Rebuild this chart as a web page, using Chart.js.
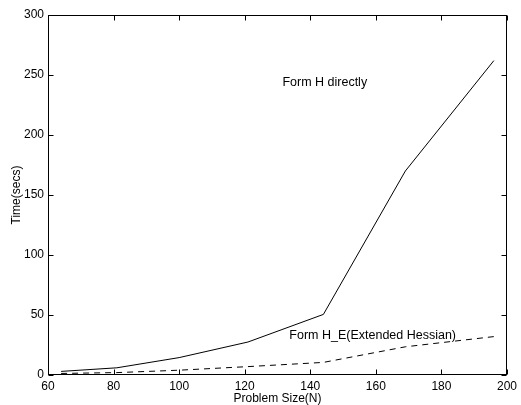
<!DOCTYPE html>
<html>
<head>
<meta charset="utf-8">
<script src="https://cdn.jsdelivr.net/npm/chart.js@4"></script>
<style>
  html, body { margin: 0; padding: 0; background: #fff; }
  #wrap { width: 521px; height: 405px; }
</style>
</head>
<body>
<div id="wrap"><canvas id="myChart" width="521" height="405"></canvas></div>
<script>
const sizes = [64, 81, 100, 121, 144, 169, 196];
const directTimes = [3, 6, 14.5, 27.5, 50.5, 170, 262];
const extendedTimes = [1.3, 2, 4, 7, 10.5, 23.5, 32];
const xTicks = [60, 80, 100, 120, 140, 160, 180, 200];
const yTicks = [0, 50, 100, 150, 200, 250, 300];
const notes = [
  { text: 'Form H directly', x: 131.5, y: 244 },
  { text: 'Form H_E(Extended Hessian)', x: 133.6, y: 32.5 },
];

const font = 'Liberation Sans, Arial, Helvetica, sans-serif';

// box round the plot with ticks pointing inwards, plus the two text notes
const frame = {
  id: 'frame',
  afterDraw(chart) {
    const ctx = chart.ctx;
    const a = chart.chartArea;
    const xs = chart.scales.x;
    const ys = chart.scales.y;
    const L = Math.round(a.left) + 0.5, R = Math.round(a.right) - 0.5;
    const T = Math.round(a.top) + 0.5, B = Math.round(a.bottom) - 0.5;
    ctx.save();
    ctx.strokeStyle = '#000';
    ctx.lineWidth = 1;
    ctx.strokeRect(L, T, R - L, B - T);
    const len = 5;
    ctx.beginPath();
    xTicks.forEach(v => {
      const px = Math.round(xs.getPixelForValue(v)) + 0.5;
      ctx.moveTo(px, B); ctx.lineTo(px, B - len);
      ctx.moveTo(px, T); ctx.lineTo(px, T + len);
    });
    yTicks.forEach(v => {
      const py = Math.round(ys.getPixelForValue(v)) + 0.5;
      ctx.moveTo(L, py); ctx.lineTo(L + len, py);
      ctx.moveTo(R, py); ctx.lineTo(R - len, py);
    });
    ctx.stroke();
    ctx.fillStyle = '#000';
    ctx.font = '12.5px ' + font;
    ctx.textBaseline = 'middle';
    ctx.textAlign = 'left';
    notes.forEach(n => {
      ctx.fillText(n.text, xs.getPixelForValue(n.x), ys.getPixelForValue(n.y));
    });
    ctx.restore();
  }
};

new Chart('myChart', {
  type: 'line',
  data: {
    datasets: [
      {
        label: 'Form H directly',
        data: sizes.map((s, i) => ({ x: s, y: directTimes[i] })),
        borderColor: '#000',
        borderWidth: 1,
        pointRadius: 0,
        tension: 0,
      },
      {
        label: 'Form H_E(Extended Hessian)',
        data: sizes.map((s, i) => ({ x: s, y: extendedTimes[i] })),
        borderColor: '#000',
        borderWidth: 1,
        borderDash: [6, 5],
        pointRadius: 0,
        tension: 0,
      },
    ],
  },
  options: {
    responsive: false,
    animation: false,
    layout: { padding: { top: 15, right: 13, left: 9, bottom: 0 } },
    plugins: {
      legend: { display: false },
      tooltip: { enabled: false },
    },
    scales: {
      x: {
        type: 'linear',
        min: 60,
        max: 200,
        afterBuildTicks: s => { s.ticks = xTicks.map(v => ({ value: v })); },
        afterFit: s => { s.height = 30; },
        grid: { display: false, drawTicks: false },
        border: { display: false },
        ticks: { color: '#000', font: { family: font, size: 12 }, padding: 4, maxRotation: 0 },
        title: { display: true, text: 'Problem Size(N)', color: '#000', font: { family: font, size: 12 }, padding: { top: 0, bottom: -1 } },
      },
      y: {
        min: 0,
        max: 300,
        afterBuildTicks: s => { s.ticks = yTicks.map(v => ({ value: v })); },
        afterFit: s => { s.width = 39; },
        grid: { display: false, drawTicks: false },
        border: { display: false },
        ticks: { color: '#000', font: { family: font, size: 12 }, padding: 4 },
        title: { display: true, text: 'Time(secs)', color: '#000', font: { family: font, size: 12 }, padding: 0 },
      },
    },
  },
  plugins: [frame],
});
</script>
</body>
</html>
